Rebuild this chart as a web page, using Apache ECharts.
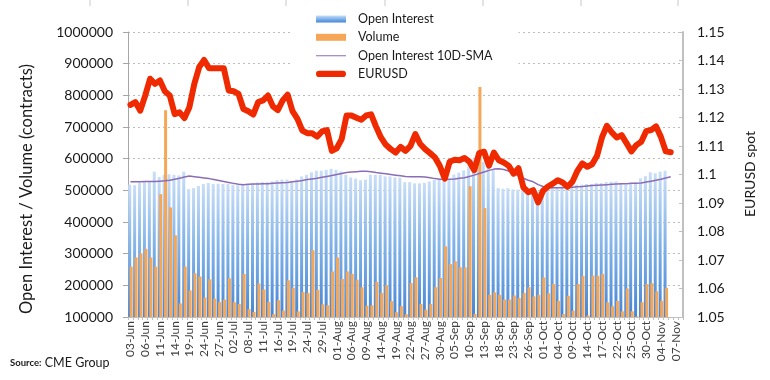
<!DOCTYPE html>
<html>
<head>
<meta charset="utf-8">
<script src="https://cdn.jsdelivr.net/npm/echarts@6/dist/echarts.min.js"></script>
<style>
html,body{margin:0;padding:0;background:#fff;}
#chart{width:770px;height:380px;}
</style>
</head>
<body>
<div id="chart"></div>
<script>
const categories = ['03-Jun','04-Jun','05-Jun','06-Jun','07-Jun','10-Jun','11-Jun','12-Jun','13-Jun','14-Jun','17-Jun','18-Jun','19-Jun','20-Jun','21-Jun','24-Jun','25-Jun','26-Jun','27-Jun','28-Jun',
'01-Jul','02-Jul','03-Jul','05-Jul','08-Jul','09-Jul','10-Jul','11-Jul','12-Jul','15-Jul','16-Jul','17-Jul','18-Jul','19-Jul','22-Jul','23-Jul','24-Jul','25-Jul','26-Jul','29-Jul','30-Jul','31-Jul',
'01-Aug','02-Aug','05-Aug','06-Aug','07-Aug','08-Aug','09-Aug','12-Aug','13-Aug','14-Aug','15-Aug','16-Aug','19-Aug','20-Aug','21-Aug','22-Aug','23-Aug','26-Aug','27-Aug','28-Aug','29-Aug','30-Aug',
'03-Sep','04-Sep','05-Sep','06-Sep','09-Sep','10-Sep','11-Sep','12-Sep','13-Sep','16-Sep','17-Sep','18-Sep','19-Sep','20-Sep','23-Sep','24-Sep','25-Sep','26-Sep','27-Sep','30-Sep',
'01-Oct','02-Oct','03-Oct','04-Oct','07-Oct','08-Oct','09-Oct','10-Oct','11-Oct','14-Oct','15-Oct','16-Oct','17-Oct','18-Oct','21-Oct','22-Oct','23-Oct','24-Oct','25-Oct','28-Oct','29-Oct','30-Oct','31-Oct',
'01-Nov','04-Nov','05-Nov','06-Nov','07-Nov','08-Nov'];

const openInterest = [518000,516000,524000,528000,530000,559000,542000,549000,551000,549000,
547000,559000,504000,507000,514000,520000,523000,520000,521000,520000,
520000,518000,516000,518000,520000,521000,525000,526000,526000,528000,
532000,534000,534000,530000,534000,544000,549000,557000,562000,562000,
565000,568000,565000,560000,549000,541000,537000,532000,534000,549000,
549000,549000,544000,544000,541000,540000,526000,526000,522000,522000,
524000,528000,533000,534000,530000,534000,550000,556000,563000,575000,
598000,600000,590000,572000,566000,507000,505000,507000,503000,502000,
504000,502000,500000,497000,502000,507000,509000,509000,513000,516000,
518000,518000,518000,520000,520000,523000,523000,526000,527000,528000,
520000,518000,523000,525000,538000,545000,557000,554000,559000,562000];

const volume = [259000,288000,301000,315000,288000,259000,488000,753000,446000,358000,
143000,259000,184000,238000,228000,162000,219000,158000,147000,155000,
222000,147000,141000,236000,125000,116000,206000,187000,147000,109000,
153000,120000,216000,192000,118000,179000,176000,311000,186000,140000,
137000,244000,288000,220000,244000,236000,218000,194000,136000,137000,
211000,176000,200000,150000,115000,134000,109000,207000,225000,141000,
123000,141000,194000,223000,323000,267000,276000,257000,257000,513000,
110000,843000,444000,170000,178000,170000,155000,155000,168000,160000,
176000,194000,165000,170000,225000,175000,204000,151000,109000,167000,
120000,204000,230000,105000,231000,230000,236000,146000,134000,151000,
118000,190000,118000,102000,147000,204000,207000,181000,151000,192000];

const oiSma10 = [527000,527000,527000,528000,528000,528000,529000,530000,532000,535000,
538000,542000,545000,543000,541000,539000,537000,534000,531000,528000,
525000,522000,519000,518000,519000,520000,520000,521000,521000,522000,
523000,524000,525000,527000,529000,531000,534000,536000,538000,541000,
544000,547000,550000,553000,556000,558000,559000,560000,560000,559000,
556000,554000,552000,550000,548000,546000,544000,543000,543000,543000,
542000,540000,537000,535000,535000,535000,536000,538000,540000,544000,
548000,553000,558000,563000,567000,568000,566000,561000,555000,545000,
538000,532000,527000,518000,512000,508000,508000,508000,508000,509000,
510000,511000,512000,514000,515000,516000,517000,518000,519000,520000,
521000,521000,522000,522000,523000,526000,529000,532000,535000,539000,
543000];

const eurusd = [1.1244,1.1254,1.1224,1.1277,1.1336,1.1318,1.1330,1.1292,1.1277,1.1212,
1.1218,1.1198,1.1236,1.1318,1.1377,1.1402,1.1373,1.1373,1.1373,1.1373,
1.1295,1.1292,1.1283,1.1230,1.1222,1.1210,1.1254,1.1260,1.1277,1.1239,
1.1226,1.1260,1.1280,1.1222,1.1195,1.1154,1.1145,1.1145,1.1133,1.1151,
1.1156,1.1083,1.1092,1.1124,1.1207,1.1207,1.1199,1.1192,1.1207,1.1211,
1.1168,1.1130,1.1104,1.1089,1.1077,1.1097,1.1083,1.1100,1.1142,1.1107,
1.1089,1.1075,1.1060,1.1030,1.0985,1.1045,1.1052,1.1050,1.1058,1.1045,
1.1015,1.1075,1.1080,1.1031,1.1077,1.1050,1.1042,1.1031,1.1003,1.1022,
1.0955,1.0938,1.0945,1.0902,1.0943,1.0958,1.0968,1.0980,1.0972,1.0957,
1.0975,1.1013,1.1039,1.1027,1.1036,1.1066,1.1130,1.1171,1.1148,1.1130,
1.1138,1.1110,1.1081,1.1103,1.1115,1.1152,1.1156,1.1169,1.1132,1.1081,
1.1078];

const seriesNames = ['Open Interest','Volume','Open Interest 10D-SMA','EURUSD'];
const leftAxisTitle = 'Open Interest / Volume (contracts)';
const rightAxisTitle = 'EURUSD spot';

const FONT = 'Lato, "Liberation Sans", sans-serif';
const chart = echarts.init(document.getElementById('chart'), null, {renderer: 'canvas'});

const blueGrad = {type:'linear', x:0, y:0, x2:0, y2:1, colorStops:[
  {offset:0, color:'#c9def7'}, {offset:0.45, color:'#86b6ea'}, {offset:1, color:'#4585d6'}]};

// legend icons: thin line and thick capsule, padded to the full 30x7 icon box
const thinLineIcon = 'path://M0,0L0.01,0L0,0.01Z M0,3.1H30V4.2H0Z M0,7L0.01,7L0,6.99Z';
const thickLineIcon = 'path://M3.5,0.5H26.5A3,3 0 0 1 26.5,6.5H3.5A3,3 0 0 1 3.5,0.5Z';

const topMarks = [90,188,286,385,483,581,678].map(function(x){
  return {type:'line', shape:{x1:x, y1:0, x2:x, y2:6}, style:{stroke:'#c8c8c8', lineWidth:1}, silent:true};
});

chart.setOption({
  animation: false,
  backgroundColor: '#fff',
  grid: {left:128, right:87, top:32, bottom:63, containLabel:false},
  legend: {
    orient:'vertical', left:292, top:6,
    padding:[6,26,6,24], backgroundColor:'#fff',
    itemWidth:30, itemHeight:7, itemGap:4.3,
    textStyle:{fontFamily:FONT, fontSize:12.5, color:'#1a1a1a', lineHeight:14, padding:[0,0,0,7]},
    data:[
      {name:seriesNames[0], icon:'rect'},
      {name:seriesNames[1], icon:'rect'},
      {name:seriesNames[2], icon:thinLineIcon, itemStyle:{color:'#8a6db5'}},
      {name:seriesNames[3], icon:thickLineIcon, itemStyle:{color:'#ef2a00'}}
    ]
  },
  xAxis: {
    type:'category', data:categories, boundaryGap:true,
    axisLine:{lineStyle:{color:'#bfbfbf', width:1}},
    axisTick:{show:true, interval:0, length:3, lineStyle:{color:'#bfbfbf'}},
    axisLabel:{interval:2, rotate:90, fontFamily:FONT, fontSize:12, color:'#404040', margin:4},
    splitLine:{show:false}
  },
  yAxis: [
    {
      type:'value', min:100000, max:1000000, interval:100000, position:'left',
      axisLine:{show:true, lineStyle:{color:'#a6a6a6'}},
      axisTick:{show:true, length:5, lineStyle:{color:'#a6a6a6'}},
      axisLabel:{fontFamily:FONT, fontSize:14, color:'#1a1a1a', margin:15,
        formatter:function(v){return String(Math.round(v));}},
      splitLine:{show:true, lineStyle:{color:'#bdbdbd', type:[2,3], width:1}}
    },
    {
      type:'value', min:1.05, max:1.15, interval:0.01, position:'right',
      axisLine:{show:true, lineStyle:{color:'#c0c0c0', width:2}},
      axisTick:{show:true, inside:true, length:4, lineStyle:{color:'#c0c0c0'}},
      axisLabel:{fontFamily:FONT, fontSize:14, color:'#1a1a1a', margin:14,
        formatter:function(v){return String(Math.round(v*100)/100);}},
      splitLine:{show:false}
    }
  ],
  series: [
    {name:seriesNames[0], type:'bar', data:openInterest, yAxisIndex:0,
     barWidth:3, barGap:'-50%', itemStyle:{color:blueGrad}, z:2},
    {name:seriesNames[1], type:'bar', data:volume, yAxisIndex:0,
     barWidth:3, itemStyle:{color:'#f5a657'}, z:3},
    {name:seriesNames[2], type:'line', data:oiSma10, yAxisIndex:0,
     symbol:'none', lineStyle:{color:'#8a6db5', width:1.5}, itemStyle:{color:'#8a6db5'}, z:4},
    {name:seriesNames[3], type:'line', data:eurusd, yAxisIndex:1,
     symbol:'none', lineStyle:{color:'#ef2a00', width:6, cap:'round', join:'round'}, itemStyle:{color:'#ef2a00'}, z:5}
  ],
  graphic: topMarks.concat([
    {type:'text', x:27, y:189, rotation:Math.PI/2,
     style:{text:leftAxisTitle, fontFamily:FONT, fontSize:16.5, fill:'#1a1a1a', textAlign:'center', textVerticalAlign:'middle'}},
    {type:'text', x:750, y:174, rotation:Math.PI/2,
     style:{text:rightAxisTitle, fontFamily:FONT, fontSize:14, fill:'#1a1a1a', textAlign:'center', textVerticalAlign:'middle'}},
    {type:'text', x:10, y:363,
     style:{text:'{a|Source:} {b|CME Group}', textVerticalAlign:'middle',
       rich:{a:{fontFamily:FONT, fontSize:9.5, fill:'#1a1a1a', fontWeight:'bold'}, b:{fontFamily:FONT, fontSize:12.5, fill:'#1a1a1a'}}}}
  ])
});
</script>
</body>
</html>
